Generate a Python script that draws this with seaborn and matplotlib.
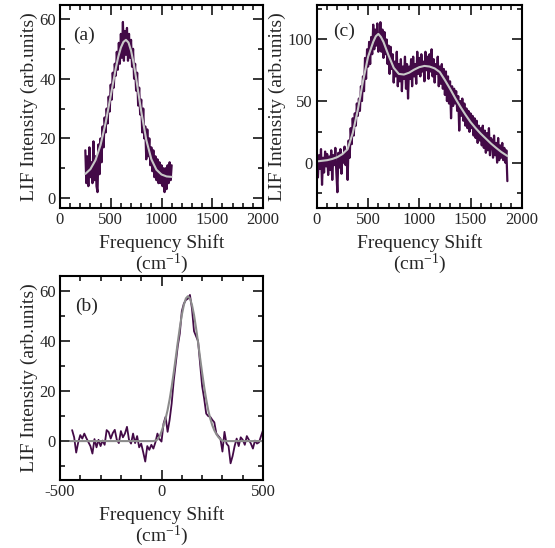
import numpy as np
import pandas as pd
import matplotlib
matplotlib.use("Agg")
import matplotlib.pyplot as plt
from matplotlib.ticker import MultipleLocator
import seaborn as sns

# ---- panel (a) ----
a_shift = np.arange(250, 1101, 10)
a_lif = [16, 5, 14, 4, 17, 7, 12, 5, 19, 6,
         14, 4, 2, 18, 8, 20, 12, 24, 17, 27,
         22, 30, 25, 34, 29, 38, 33, 42, 37, 45,
         41, 49, 43, 52, 45, 55, 47, 59, 46, 56,
         48, 57, 46, 55, 47, 53, 44, 50, 40, 45,
         36, 42, 31, 37, 28, 33, 22, 30, 20, 24,
         13, 23, 14, 20, 11, 17, 9, 16, 7, 14,
         6, 13, 5, 12, 5, 11, 4, 10, 2, 10,
         3, 11, 5, 12, 6, 11]
a_fit_shift = [250, 300, 350, 400, 450, 500, 550, 575, 600, 625, 650, 675, 700,
               725, 750, 800, 850, 900, 950, 1000, 1050, 1100]
a_fit = [8.1, 9.7, 12.7, 17.8, 25.2, 34.3, 43.5, 47.4, 50.4, 52.3, 53.0, 52.1, 49.4,
         45.3, 40.2, 29.1, 19.5, 13.0, 9.5, 7.9, 7.25, 7.1]

# ---- panel (b) ----
b_shift = np.arange(-440, 501, 10)
b_lif = [4.4, 1.5, -4.6, -0.5, 2.4, 1.0, 3.0, 1.2, -0.4, -2.0,
         -5.0, 0.8, -2.5, 0.5, -2.0, 0.2, -1.5, 4.4, 3.6, 1.0,
         3.2, 4.5, 0.5, -0.8, 4.0, 1.5, 3.0, 5.7, 0.5, -1.0,
         3.0, -0.8, 2.0, -2.5, -1.0, -4.5, -8.2, -2.0, -3.5, -1.5,
         -3.0, -0.5, 3.0, 0.8, -0.2, 7.0, 9.7, 3.7, 8.5, 15.0,
         24, 31, 38, 43, 52, 55, 56.5, 57, 58.5, 53,
         44, 42, 40, 31, 22, 17, 11, 10, 9.7, 8.5,
         7.5, 3.0, 2.0, 1.0, -4.2, 3.7, -1.0, -2.0, -8.9, -6.0,
         -2.0, 1.0, -2.0, 1.5, 0.5, -1.5, 2.0, 0.5, -1.0, -3.0,
         0.2, -1.0, -0.5, 2.0, 4.4]
b_fit_shift = [-450, -40, -30, -20, -10, 0, 10, 20, 30, 40, 50, 60, 70, 80, 90, 100,
               110, 120, 130, 140, 150, 160, 170, 180, 190, 200, 210, 220, 230, 240,
               250, 260, 270, 280, 290, 300, 310, 500]
b_fit = [0, 0, 0.2, 0.6, 1.8, 3.8, 6.3, 9.0, 12.4, 16.7, 21.7, 27.3, 33.3, 39.5, 45.3, 50.5,
         54.5, 57.1, 58.0, 57.1, 54.5, 50.5, 45.3, 39.5, 33.3, 27.3, 21.7, 16.7, 12.4, 9.0,
         6.3, 4.3, 2.8, 1.6, 0.7, 0.2, 0, 0]

# ---- panel (c) ----
c_shift = np.arange(0, 1861, 10)
c_lif = [8, -12, 6, -5, 11, -18, 4, -8, 9, -3, 7,
         -10, 5, -6, 10, -14, 6, -2, 12, -8, -24,
         8, -4, 11, -9, 6, 0, 13, -2, 9, -14,
         18, 4, 28, 15, 36, 22, 40, 30, 48, 38,
         52, 42, 62, 50, 70, 58, 85, 68, 92, 78,
         98, 80, 102, 88, 112, 92, 108, 95, 113, 90,
         96, 114, 90, 108, 85, 106, 88, 100, 80, 95,
         72, 94, 76, 88, 65, 82, 70, 90, 62, 80,
         66, 84, 58, 78, 68, 86, 60, 80, 52, 78,
         68, 84, 62, 86, 70, 80, 64, 90, 72, 85,
         70, 88, 74, 82, 66, 90, 75, 86, 68, 88,
         74, 92, 70, 84, 65, 80, 72, 86, 62, 78,
         64, 80, 60, 76, 55, 74, 50, 70, 48, 66,
         36, 62, 46, 60, 48, 58, 42, 54, 26, 50,
         38, 52, 34, 48, 30, 44, 28, 42, 25, 40,
         28, 38, 22, 36, 20, 34, 16, 30, 18, 28,
         14, 30, 12, 26, 8, 24, 10, 28, 6, 20,
         18, 4, 22, 6, 16, 0, 20, 2, 14, 4,
         16, 2, 12, 0, 10, -15]
c_fit_shift = [0, 50, 100, 150, 200, 250, 300, 350, 400, 450, 500, 550, 575, 600, 625,
               650, 700, 750, 800, 850, 900, 950, 1000, 1050, 1100, 1150, 1200, 1250,
               1300, 1350, 1400, 1450, 1500, 1550, 1600, 1650, 1700, 1750, 1800, 1860]
c_fit = [1.0, 1.5, 2.0, 3.0, 4.5, 7.0, 11.0, 24.0, 43.0, 66.0, 86.0, 98.0, 102.5, 104.5, 102.0,
         98.0, 87.0, 77.0, 72.0, 71.5, 73.0, 75.5, 77.5, 78.5, 78.0, 76.5, 73.5, 67.0,
         60.0, 52.5, 45.5, 39.0, 33.0, 28.0, 23.5, 19.5, 15.5, 12.0, 8.7, 5.4]

DATA_COLOR = "#430a47"

sns.set_style("ticks")
plt.rcParams["font.family"] = ["Liberation Serif", "DejaVu Serif"]
plt.rcParams["mathtext.fontset"] = "custom"
plt.rcParams["mathtext.rm"] = "Liberation Serif"
plt.rcParams["mathtext.default"] = "regular"
plt.rcParams["axes.unicode_minus"] = False


def draw_panel(ax, shift, lif, fit_shift, fit, fit_color, lw, tag,
               xlim, ylim, ymajor, yminor, lbl_xy):
    df = pd.DataFrame({"shift": shift, "lif": lif})
    fdf = pd.DataFrame({"shift": fit_shift, "lif": fit})
    sns.lineplot(data=df, x="shift", y="lif", color=DATA_COLOR, lw=lw,
                 estimator=None, sort=False, ax=ax)
    sns.lineplot(data=fdf, x="shift", y="lif", color=fit_color, lw=1.5,
                 estimator=None, sort=False, ax=ax)
    ax.set_xlim(*xlim)
    ax.set_ylim(*ylim)
    ax.xaxis.set_major_locator(MultipleLocator(500))
    ax.xaxis.set_minor_locator(MultipleLocator(100))
    ax.yaxis.set_major_locator(MultipleLocator(ymajor))
    ax.yaxis.set_minor_locator(MultipleLocator(yminor))
    ax.tick_params(which="both", direction="in", top=True, right=True,
                   labelsize=12, width=1.1, color="black")
    ax.tick_params(which="major", length=7, pad=3)
    ax.tick_params(which="minor", length=3.5)
    for s in ax.spines.values():
        s.set_linewidth(1.5)
        s.set_color("black")
    ax.set_xlabel("Frequency Shift\n(cm$^{-1}$)", fontsize=14, linespacing=1.0, labelpad=4)
    ax.set_ylabel("LIF Intensity (arb.units)", fontsize=14, labelpad=1)
    ax.text(lbl_xy[0], lbl_xy[1], tag, transform=ax.transAxes, fontsize=14,
            ha="left", va="center")


fig = plt.figure(figsize=(5.55, 5.48), dpi=100)
ax_a = fig.add_axes([0.108, 0.620, 0.366, 0.371])
ax_c = fig.add_axes([0.571, 0.620, 0.369, 0.371])
ax_b = fig.add_axes([0.108, 0.124, 0.366, 0.372])

draw_panel(ax_a, a_shift, a_lif, a_fit_shift, a_fit, "#c8c8c8", 1.6, "(a)",
           (0, 2000), (-3.4, 64.7), 20, 10, (0.065, 0.85))
draw_panel(ax_c, c_shift, c_lif, c_fit_shift, c_fit, "#c8c8c8", 1.6, "(c)",
           (0, 2000), (-37, 128), 50, 25, (0.08, 0.87))
draw_panel(ax_b, b_shift, b_lif, b_fit_shift, b_fit, "#8c8c8c", 1.3, "(b)",
           (-500, 500), (-15.6, 66), 20, 10, (0.075, 0.85))

fig.savefig("out.png", dpi=100)
